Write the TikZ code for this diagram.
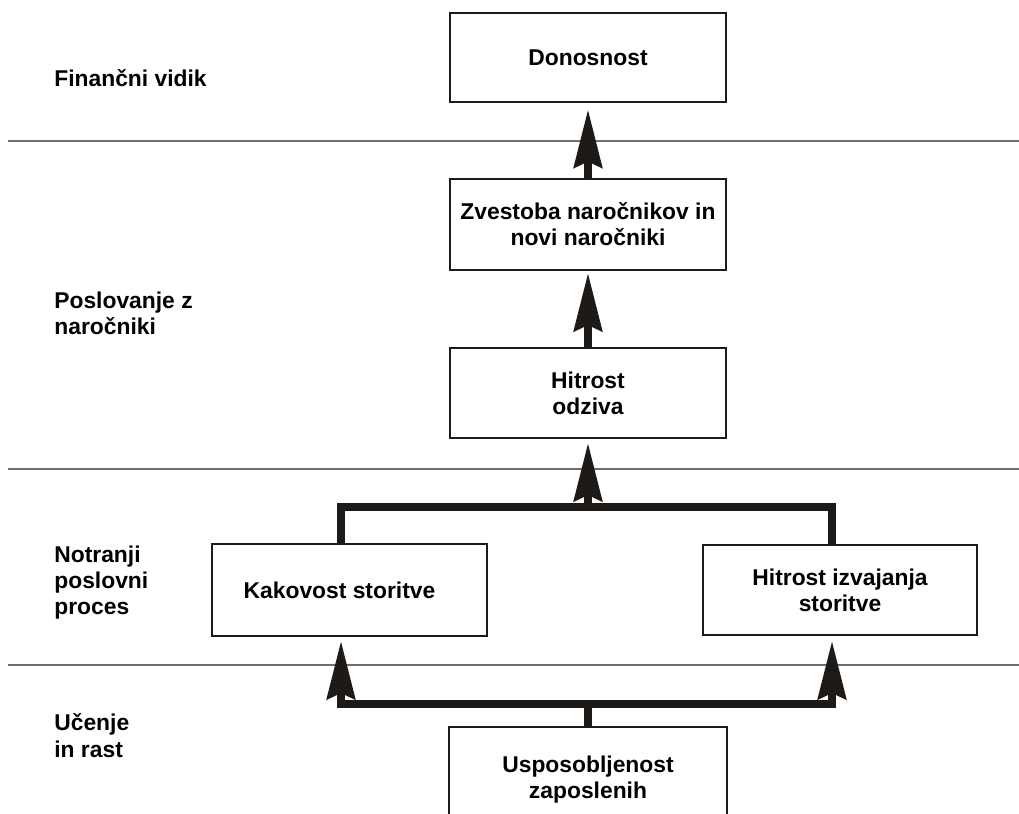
\documentclass[tikz,border=0pt]{standalone}
\usepackage{fontspec}
\setmainfont{Liberation Sans}
\usetikzlibrary{arrows.meta}
\definecolor{ink}{RGB}{30,26,23}
\definecolor{rulegray}{RGB}{110,110,110}
\begin{document}
\begin{tikzpicture}[x=0.02cm, y=-0.02cm,
  every node/.style={font=\fontsize{13}{14.8}\selectfont\bfseries, text=black},
  box/.style={draw=ink, line width=0.04cm, inner sep=0pt, align=center,
              minimum width=5.54cm, minimum height=1.8cm},
  lane/.style={anchor=base west, inner sep=0pt, align=left},
  sepline/.style={draw=rulegray, line width=0.03cm},
  conn/.style={draw=ink, line width=0.16cm, line join=miter},
  uptip/.style={-{Stealth[length=1.16cm, width=0.56cm, inset=0.12cm]}},
]
\useasboundingbox (0,0) rectangle (1019,814);

% perspective separators
\draw[sepline] (8,141) -- (1019,141);
\draw[sepline] (8,469) -- (1019,469);
\draw[sepline] (8,665) -- (1019,665);

% perspective labels (base anchor sits on the last line)
\node[lane] (fin) at (54,87) {Finančni vidik};
\node[lane] (pos) at (54,335) {Poslovanje z\\naročniki};
\node[lane] (not) at (54,615) {Notranji\\poslovni\\proces};
\node[lane] (uce) at (54,757) {Učenje\\in rast};

% objective boxes
\node[box] (don) at (588,57.5) {Donosnost};
\node[box, minimum height=1.82cm] (zv) at (588,224.5) {Zvestoba naročnikov in\\novi naročniki};
\node[box] (odz) at (588,393) {Hitrost\\odziva};
\node[box, minimum width=5.5cm, minimum height=1.84cm] (kak) at (349.5,590) {Kakovost storitve\hspace*{0.4cm}};
\node[box, minimum width=5.48cm] (hiz) at (840,590) {Hitrost izvajanja\\storitve};

% bottom box, open towards the page edge
\node[inner sep=0pt, align=center, minimum width=5.54cm, minimum height=2.12cm] (usp) at (588,780) {Usposobljenost\\zaposlenih};
\coordinate (pagebottom) at (0,816);
\draw[ink, line width=0.04cm] (usp.north west |- pagebottom) -- (usp.north west)
  -- (usp.north east) -- (usp.north east |- pagebottom);

% junction points
\coordinate (jl) at (341,507);
\coordinate (jr) at (832,507);
\coordinate (jm) at (588,507);
\coordinate (bl) at (341,704);
\coordinate (br) at (832,704);
\coordinate (bm) at (588,704);

% cause-effect links
\draw[conn, uptip, shorten >=0.12cm] (zv.north) -- (don.south);
\draw[conn, uptip, shorten >=0.04cm] (odz.north) -- (zv.south);
\draw[conn] (kak.north -| jl) -- (jl) -- (jr) -- (hiz.north -| jr);
\draw[conn, uptip, shorten >=0.08cm] (jm) -- (odz.south);
\draw[conn] (usp.north) -- (bm);
\draw[conn, uptip, shorten >=0.08cm] (bm) -| (kak.south -| bl);
\draw[conn, uptip, shorten >=0.1cm] (bm) -| (hiz.south -| br);
\end{tikzpicture}
\end{document}
